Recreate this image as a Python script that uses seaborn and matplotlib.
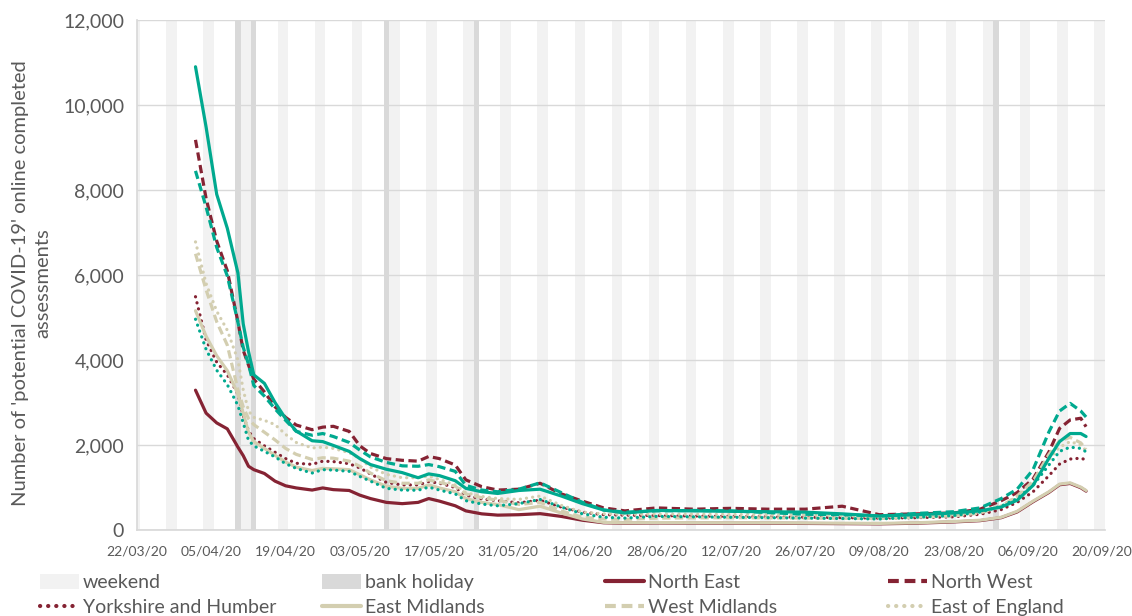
import numpy as np
import pandas as pd
import seaborn as sns
import matplotlib as mpl
mpl.use('Agg')
import matplotlib.pyplot as plt
from matplotlib.patches import Patch
from matplotlib.lines import Line2D

DATES = ["02/04/20", "04/04/20", "06/04/20", "08/04/20", "10/04/20", "11/04/20", "12/04/20",
         "13/04/20", "15/04/20", "17/04/20", "19/04/20", "21/04/20", "24/04/20", "26/04/20",
         "28/04/20", "01/05/20", "03/05/20", "05/05/20", "08/05/20", "11/05/20", "14/05/20",
         "16/05/20", "18/05/20", "21/05/20", "23/05/20", "26/05/20", "29/05/20", "02/06/20",
         "06/06/20", "10/06/20", "14/06/20", "18/06/20", "22/06/20", "28/06/20", "05/07/20",
         "12/07/20", "19/07/20", "26/07/20", "02/08/20", "09/08/20", "16/08/20", "23/08/20",
         "28/08/20", "01/09/20", "04/09/20", "07/09/20", "10/09/20", "12/09/20", "14/09/20",
         "16/09/20", "17/09/20"]

north_east = [3290, 2750, 2520, 2380, 1950, 1750, 1500, 1420, 1330, 1150, 1040, 990, 940, 990, 950,
              930, 820, 740, 650, 620, 650, 740, 680, 570, 450, 380, 350, 360, 385, 320, 230, 170,
              160, 165, 162, 160, 160, 155, 150, 145, 160, 190, 220, 290, 425, 665, 885, 1065, 1095,
              995, 915]
north_west = [9180, 7800, 6800, 6100, 4900, 4230, 3880, 3550, 3250, 2900, 2650, 2470, 2360, 2420, 2440,
              2320, 1980, 1800, 1680, 1640, 1620, 1730, 1680, 1530, 1180, 1020, 940, 960, 1100, 850,
              680, 520, 450, 520, 490, 510, 490, 490, 560, 360, 380, 400, 490, 690, 880, 1200, 1840,
              2390, 2590, 2630, 2430]
yorkshire = [5490, 4470, 3950, 3650, 3200, 2700, 2330, 2150, 1980, 1830, 1680, 1570, 1545, 1620, 1610,
             1560, 1460, 1320, 1120, 1060, 1060, 1140, 1100, 1000, 820, 730, 690, 640, 700, 540, 420,
             360, 350, 340, 330, 320, 310, 300, 290, 280, 290, 310, 370, 480, 650, 900, 1280, 1550,
             1670, 1690, 1650]
east_midlands = [5160, 4560, 4100, 3750, 3200, 2750, 2300, 2080, 1920, 1760, 1600, 1480, 1400, 1450,
                 1440, 1420, 1300, 1180, 1030, 980, 980, 1060, 990, 900, 740, 650, 600, 480, 560, 400,
                 260, 180, 170, 175, 172, 170, 170, 165, 160, 155, 170, 200, 230, 300, 440, 680, 900,
                 1080, 1110, 1010, 930]
west_midlands = [6500, 5650, 4900, 4350, 3300, 2900, 2620, 2480, 2300, 2120, 1920, 1780, 1660, 1700,
                 1690, 1620, 1500, 1340, 1160, 1100, 1100, 1180, 1120, 1030, 850, 760, 700, 600, 650,
                 450, 300, 260, 250, 280, 285, 290, 285, 280, 275, 270, 300, 330, 400, 560, 800, 1150,
                 1780, 2100, 2180, 2050, 1900]
east_england = [6780, 5800, 5150, 4700, 4000, 3300, 2800, 2650, 2580, 2480, 2250, 2060, 1930, 1950,
                1920, 1820, 1680, 1480, 1310, 1230, 1230, 1270, 1190, 1060, 880, 790, 740, 720, 800,
                580, 420, 380, 370, 370, 370, 365, 360, 350, 340, 300, 330, 360, 430, 570, 780, 1100,
                1650, 1950, 2080, 2000, 1870]
london = [10900, 9480, 7900, 7100, 6050, 4850, 4200, 3650, 3450, 3000, 2620, 2330, 2100, 2080, 1990,
          1850, 1680, 1540, 1430, 1350, 1230, 1320, 1280, 1160, 980, 900, 860, 930, 960, 800, 620,
          470, 400, 460, 450, 440, 430, 420, 380, 330, 360, 400, 450, 540, 700, 1050, 1690, 2080,
          2270, 2270, 2200]
south_east = [8450, 7600, 6650, 5980, 4890, 4300, 3900, 3400, 3150, 2850, 2580, 2320, 2230, 2270, 2200,
              2060, 1880, 1720, 1590, 1510, 1500, 1540, 1490, 1380, 1050, 940, 900, 960, 1110, 880,
              650, 470, 420, 450, 460, 450, 410, 370, 360, 330, 390, 430, 520, 740, 960, 1420, 2310,
              2800, 2980, 2800, 2660]
south_west = [4960, 4250, 3760, 3420, 2930, 2520, 2110, 1980, 1850, 1720, 1560, 1450, 1340, 1420, 1410,
              1380, 1260, 1150, 980, 940, 935, 1010, 940, 850, 690, 610, 570, 620, 720, 540, 380, 300,
              280, 320, 310, 300, 290, 280, 270, 260, 300, 340, 420, 560, 740, 1050, 1530, 1850, 1950,
              1920, 1840]

BANK_HOLIDAYS = ["10/04/20", "13/04/20", "08/05/20", "25/05/20", "31/08/20"]
AXIS_START = "22/03/20"
AXIS_END = "20/09/20"

REGIONS = ["North East", "North West", "Yorkshire and Humber", "East Midlands", "West Midlands",
           "East of England", "London", "South East", "South West"]
SERIES = [north_east, north_west, yorkshire, east_midlands, west_midlands, east_england,
          london, south_east, south_west]
# the reference image is cropped below the second legend row
LEGEND_REGIONS = REGIONS[:6]

MAROON = '#852333'
BEIGE = '#D3CEB0'
TEAL = '#00A98F'
PALETTE = dict(zip(REGIONS, [MAROON, MAROON, MAROON, BEIGE, BEIGE, BEIGE, TEAL, TEAL, TEAL]))
SOLID, DASH, DOT = '', (2.6, 1.4), (0.05, 1.9)
DASHES = dict(zip(REGIONS, [SOLID, DASH, DOT] * 3))
WEEKEND_COL = '#F2F2F2'
HOLIDAY_COL = '#D9D9D9'
TXT = '#595959'
LW = 2.3

# ---- long format table ----
dates = pd.to_datetime(DATES, format='%d/%m/%y')
df = pd.DataFrame({'date': dates})
for name, vals in zip(REGIONS, SERIES):
    df[name] = vals
df = df.melt(id_vars='date', var_name='region', value_name='value')

sns.set_theme(style='white')
plt.rcParams['font.family'] = ['Lato', 'DejaVu Sans']

fig = plt.figure(figsize=(11.32, 6.16), dpi=100)
ax = fig.add_axes([0.1208, 0.1396, 0.8554, 0.8279])

start = pd.to_datetime(AXIS_START, format='%d/%m/%y')
end = pd.to_datetime(AXIS_END, format='%d/%m/%y')
half = pd.Timedelta(hours=12)
holidays = pd.to_datetime(BANK_HOLIDAYS, format='%d/%m/%y')
for d in pd.date_range(start, end, freq='D'):
    if d in holidays:
        ax.axvspan(d - half, d + half, color=HOLIDAY_COL, lw=0, zorder=0)
    elif d.dayofweek >= 5:
        ax.axvspan(d - half, d + half, color=WEEKEND_COL, lw=0, zorder=0)

sns.lineplot(data=df, x='date', y='value', hue='region', style='region',
             hue_order=REGIONS, style_order=REGIONS, palette=PALETTE, dashes=DASHES,
             linewidth=LW, legend=False, ax=ax, zorder=3)
for line, region in zip(ax.lines, REGIONS):
    if DASHES[region] == DOT:
        line.set_dash_capstyle('round')

ax.set_ylim(0, 12000)
ax.set_xlim(start - pd.Timedelta(hours=2), end + pd.Timedelta(hours=14))
ax.set_yticks(np.arange(0, 12001, 2000))
ax.yaxis.set_major_formatter(mpl.ticker.FuncFormatter(lambda v, p: '{:,.0f}'.format(v)))
ax.grid(axis='y', color='#D9D9D9', lw=1, zorder=1)
ax.set_axisbelow(True)
ax.set_xticks(pd.date_range(start, end, freq='14D'))
ax.set_xticks(pd.date_range(start, end, freq='7D'), minor=True)
ax.xaxis.set_major_formatter(mpl.dates.DateFormatter('%d/%m/%y'))
ax.tick_params(axis='x', which='both', length=5, width=1, color='#BFBFBF',
               labelsize=10, labelcolor=TXT, pad=6)
ax.tick_params(axis='y', length=5, width=1, color='#D9D9D9', labelsize=14, labelcolor=TXT, pad=4)
for side in ['top', 'right']:
    ax.spines[side].set_visible(False)
for side in ['left', 'bottom']:
    ax.spines[side].set_color('#D9D9D9')
ax.set_xlabel('')
ax.set_ylabel("Number of 'potential COVID-19' online completed\nassessments",
              fontsize=14.5, color=TXT, linespacing=1.35)
ax.yaxis.set_label_coords(-0.0885, 0.485)

# ---- legend, Excel style: four equal columns, row-wise ----
handles = [Patch(facecolor=WEEKEND_COL, edgecolor='none'),
           Patch(facecolor=HOLIDAY_COL, edgecolor='none')]
for region in LEGEND_REGIONS:
    d = DASHES[region]
    h = Line2D([], [], color=PALETTE[region], lw=LW * 1.3)
    if d:
        h.set_dashes(d)
    if d == DOT:
        h.set_dash_capstyle('round')
    handles.append(h)
labels = ['weekend', 'bank holiday'] + LEGEND_REGIONS
col_x = [40, 322, 605, 888]
for c in range(4):
    idx = list(range(c, len(labels), 4))
    fig.legend([handles[i] for i in idx], [labels[i] for i in idx],
               loc='upper left', bbox_to_anchor=(col_x[c] / 1132, 1 - 574 / 616),
               frameon=False, fontsize=14, handlelength=2.0, handleheight=0.8,
               handletextpad=0.2, labelspacing=0.38, borderpad=0, borderaxespad=0,
               labelcolor=TXT)

fig.savefig('out.png', dpi=100)
